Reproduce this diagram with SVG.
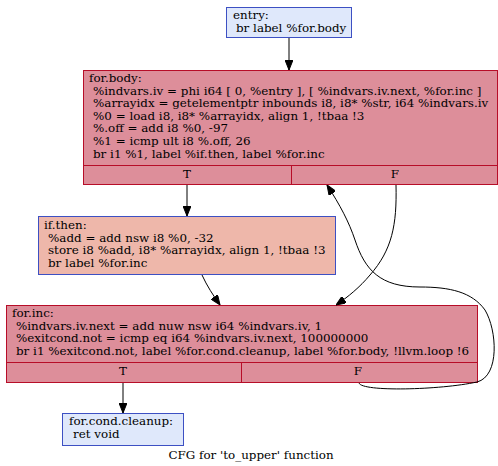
<svg xmlns="http://www.w3.org/2000/svg" width="498" height="466" viewBox="0 0 498 466">
<defs>
<marker id="ah" markerWidth="10" markerHeight="8" refX="10" refY="4" orient="auto" markerUnits="userSpaceOnUse">
<path d="M0,0 L10,4 L0,8 Z" fill="#000" stroke="#000" stroke-width="1"/>
</marker>
<style>
text{font-family:"DejaVu Serif","Liberation Serif",serif;font-size:11.9px;fill:#000}
.hot{fill:#dd8e9a;stroke:#b70d28;stroke-width:1}
.warm{fill:#eeb7aa;stroke:#3d50c3;stroke-width:1}
.cold{fill:#dfe8fb;stroke:#3d50c3;stroke-width:1}
.sep{stroke:#b70d28;stroke-width:1;fill:none}
.edge{fill:none;stroke:#000;stroke-width:1;marker-end:url(#ah)}
.c{text-anchor:middle}
</style>
</defs>
<rect width="498" height="466" fill="#fff"/>
<g id="entry">
<rect class="cold" x="226.5" y="7.5" width="125" height="30"/>
<text x="233" y="19">entry:</text>
<text x="236" y="31.5">br label %for.body</text>
</g>
<g id="for.body">
<rect class="hot" x="83.5" y="70.5" width="414" height="114"/>
<line class="sep" x1="83.5" y1="165.5" x2="497.5" y2="165.5"/>
<line class="sep" x1="291.5" y1="165.5" x2="291.5" y2="184.5"/>
<text x="89" y="82">for.body:</text>
<text x="93" y="94.6">%indvars.iv = phi i64 [ 0, %entry ], [ %indvars.iv.next, %for.inc ]</text>
<text x="93" y="107.2">%arrayidx = getelementptr inbounds i8, i8* %str, i64 %indvars.iv</text>
<text x="93" y="119.8">%0 = load i8, i8* %arrayidx, align 1, !tbaa !3</text>
<text x="93" y="132.4">%.off = add i8 %0, -97</text>
<text x="93" y="145">%1 = icmp ult i8 %.off, 26</text>
<text x="93" y="157.6">br i1 %1, label %if.then, label %for.inc</text>
<text class="c" x="187" y="177.5">T</text>
<text class="c" x="395" y="177.5">F</text>
</g>
<g id="if.then">
<rect class="warm" x="38.5" y="216.5" width="297" height="58"/>
<text x="44" y="229">if.then:</text>
<text x="48" y="241.5">%add = add nsw i8 %0, -32</text>
<text x="48" y="254">store i8 %add, i8* %arrayidx, align 1, !tbaa !3</text>
<text x="48" y="266.5">br label %for.inc</text>
</g>
<g id="for.inc">
<rect class="hot" x="6.5" y="305.5" width="471" height="77"/>
<line class="sep" x1="6.5" y1="362.5" x2="477.5" y2="362.5"/>
<line class="sep" x1="241.5" y1="362.5" x2="241.5" y2="382.5"/>
<text x="12" y="317">for.inc:</text>
<text x="16" y="329.7">%indvars.iv.next = add nuw nsw i64 %indvars.iv, 1</text>
<text x="16" y="342.3">%exitcond.not = icmp eq i64 %indvars.iv.next, 100000000</text>
<text x="16" y="355">br i1 %exitcond.not, label %for.cond.cleanup, label %for.body, !llvm.loop !6</text>
<text class="c" x="123" y="375">T</text>
<text class="c" x="358" y="375">F</text>
</g>
<g id="for.cond.cleanup">
<rect class="cold" x="62.5" y="413.5" width="121" height="32"/>
<text x="69" y="425">for.cond.cleanup:</text>
<text x="73" y="437.5">ret void</text>
</g>
<g id="edges">
<path class="edge" d="M289,38 L289,70"/>
<path class="edge" d="M187,185 L187,216"/>
<path class="edge" d="M202,275 C207,286 213,295 220,305"/>
<path class="edge" d="M396,185 C397,225 392,250 370,275 C360,287 348,297 336,305"/>
<path class="edge" d="M359,383 C362,392 440,390 477,382 C500,376 497,330 485,310 C472,292 450,287 420,287 C380,287 365,270 355,240 C349,222 340,205 327,185"/>
<path class="edge" d="M123,383 L123,413"/>
</g>
<text class="c" x="251" y="459">CFG for 'to_upper' function</text>
</svg>
